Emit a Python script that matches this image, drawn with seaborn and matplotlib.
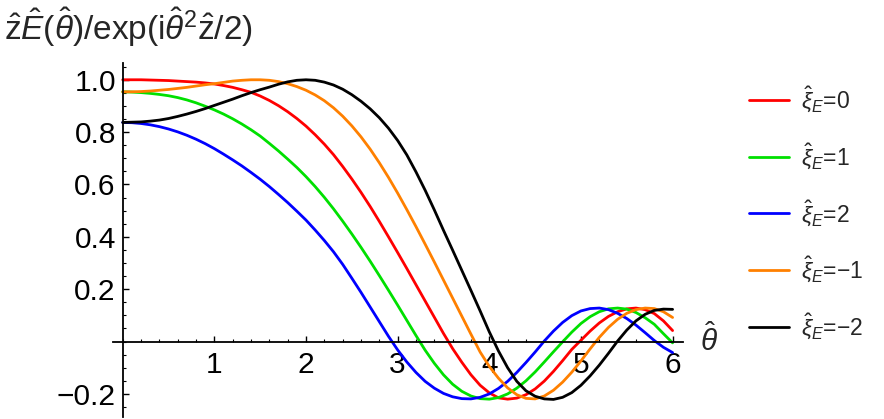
import numpy as np
import pandas as pd
import matplotlib
matplotlib.use("Agg")
import matplotlib.pyplot as plt
import seaborn as sns
from matplotlib.ticker import MultipleLocator, FixedLocator

# values, theta = 0.0, 0.1, ..., 6.0
theta = [round(0.1 * i, 1) for i in range(61)]

xi_0 = [1.000, 1.000, 1.000, 0.999, 0.998, 0.997, 0.995, 0.993, 0.991, 0.988,
        0.984, 0.978, 0.971, 0.962, 0.952, 0.938, 0.921, 0.901, 0.878, 0.852,
        0.823, 0.790, 0.754, 0.714, 0.669, 0.621, 0.570, 0.516, 0.459, 0.400,
        0.340, 0.279, 0.217, 0.155, 0.093, 0.031, -0.027, -0.079, -0.127, -0.167,
        -0.196, -0.215, -0.220, -0.216, -0.203, -0.181, -0.151, -0.114, -0.073, -0.030,
        0.005, 0.040, 0.071, 0.096, 0.114, 0.125, 0.128, 0.122, 0.107, 0.079,
        0.042]
xi_1 = [0.954, 0.953, 0.951, 0.948, 0.944, 0.939, 0.932, 0.923, 0.912, 0.899,
        0.885, 0.869, 0.851, 0.831, 0.809, 0.785, 0.757, 0.728, 0.697, 0.665,
        0.630, 0.592, 0.551, 0.507, 0.460, 0.411, 0.360, 0.307, 0.252, 0.196,
        0.139, 0.081, 0.023, -0.033, -0.083, -0.127, -0.163, -0.190, -0.208, -0.218,
        -0.220, -0.214, -0.200, -0.178, -0.150, -0.116, -0.078, -0.039, -0.001, 0.036,
        0.069, 0.095, 0.114, 0.125, 0.128, 0.124, 0.111, 0.091, 0.066, 0.030,
        -0.005]
xi_2 = [0.837, 0.836, 0.833, 0.828, 0.821, 0.812, 0.801, 0.788, 0.773, 0.756,
        0.737, 0.716, 0.694, 0.671, 0.646, 0.620, 0.592, 0.562, 0.531, 0.498,
        0.464, 0.426, 0.386, 0.343, 0.295, 0.242, 0.188, 0.132, 0.076, 0.020,
        -0.032, -0.078, -0.118, -0.152, -0.178, -0.198, -0.211, -0.218, -0.219, -0.213,
        -0.200, -0.179, -0.152, -0.118, -0.080, -0.040, 0.002, 0.040, 0.073, 0.099,
        0.117, 0.126, 0.128, 0.122, 0.108, 0.088, 0.063, 0.034, 0.004, -0.022,
        -0.042]
xi_m1 = [0.954, 0.954, 0.955, 0.957, 0.960, 0.963, 0.967, 0.971, 0.976, 0.981,
         0.985, 0.990, 0.995, 0.998, 1.000, 1.000, 0.998, 0.993, 0.985, 0.974,
         0.960, 0.942, 0.920, 0.893, 0.861, 0.824, 0.782, 0.735, 0.683, 0.627,
         0.567, 0.504, 0.439, 0.372, 0.304, 0.235, 0.166, 0.097, 0.028, -0.040,
         -0.095, -0.140, -0.177, -0.203, -0.217, -0.219, -0.208, -0.186, -0.155, -0.117,
         -0.074, -0.028, 0.016, 0.054, 0.085, 0.108, 0.122, 0.128, 0.126, 0.114,
         0.092]
xi_m2 = [0.837, 0.838, 0.839, 0.842, 0.846, 0.852, 0.860, 0.869, 0.879, 0.890,
         0.902, 0.914, 0.926, 0.939, 0.951, 0.962, 0.972, 0.983, 0.992, 0.998,
         1.000, 0.998, 0.991, 0.980, 0.964, 0.943, 0.918, 0.889, 0.855, 0.815,
         0.768, 0.713, 0.648, 0.578, 0.503, 0.425, 0.349, 0.272, 0.195, 0.117,
         0.037, -0.036, -0.100, -0.152, -0.188, -0.209, -0.219, -0.221, -0.213, -0.195,
         -0.167, -0.131, -0.090, -0.045, 0.002, 0.044, 0.079, 0.104, 0.119, 0.124,
         0.123]

labels = [r"$\hat{\xi}_E$=0", r"$\hat{\xi}_E$=1", r"$\hat{\xi}_E$=2",
          r"$\hat{\xi}_E$=−1", r"$\hat{\xi}_E$=−2"]
colors = ["#ff0000", "#00e000", "#0000ff", "#ff8000", "#000000"]

rows = []
for lab, vals in zip(labels, [xi_0, xi_1, xi_2, xi_m1, xi_m2]):
    for t, v in zip(theta, vals):
        rows.append({"theta": t, "value": v, "series": lab})
df = pd.DataFrame(rows)

sns.set_theme(style="white")
plt.rcParams["font.family"] = ["Liberation Sans", "DejaVu Sans"]
plt.rcParams["mathtext.fontset"] = "custom"
plt.rcParams["mathtext.rm"] = "Liberation Sans"
plt.rcParams["mathtext.it"] = "Liberation Sans:italic"
plt.rcParams["mathtext.bf"] = "Liberation Sans:bold"

fig = plt.figure(figsize=(8.84, 4.19), dpi=100)
ax = fig.add_axes([0.1275, 0.0055, 0.6455, 0.8441])

sns.lineplot(data=df, x="theta", y="value", hue="series", hue_order=labels,
             palette=colors, linewidth=2.0, ax=ax)

ax.set_xlim(-0.109, 6.117)
ax.set_ylim(-0.287, 1.064)
ax.spines["left"].set_position(("data", 0))
ax.spines["bottom"].set_position(("data", 0))
ax.spines["top"].set_visible(False)
ax.spines["right"].set_visible(False)
for s in ["left", "bottom"]:
    ax.spines[s].set_color("black")
    ax.spines[s].set_linewidth(1.3)

ax.xaxis.set_major_locator(FixedLocator([1, 2, 3, 4, 5, 6]))
ax.xaxis.set_minor_locator(MultipleLocator(0.2))
ax.yaxis.set_major_locator(FixedLocator([-0.2, 0.2, 0.4, 0.6, 0.8, 1.0]))
ax.yaxis.set_minor_locator(MultipleLocator(0.05))
ax.set_xticklabels(["1", "2", "3", "4", "5", "6"])
ax.set_yticklabels(["−0.2", "0.2", "0.4", "0.6", "0.8", "1.0"])
ax.tick_params(axis="both", which="major", direction="in", length=4.5, width=1.0,
               color="black", labelsize=21.5, labelcolor="black")
ax.tick_params(axis="both", which="minor", direction="in", length=2.5, width=0.8,
               color="black")
ax.tick_params(axis="x", which="major", pad=7)
ax.tick_params(axis="y", which="major", pad=5)
ax.tick_params(axis="x", which="both", bottom=True, top=False)
ax.tick_params(axis="y", which="both", left=True, right=False)
ax.set_xlabel("")
ax.set_ylabel("")

fig.text(0.004, 1 - 40 / 419,
         r"$\hat{\mathrm{z}}\hat{E}(\hat{\theta})/\mathrm{exp}(\mathrm{i}\hat{\theta}^2\hat{\mathrm{z}}/2)$",
         fontsize=24, va="baseline", ha="left")
fig.text(0.792, 1 - 340 / 419, r"$\hat{\theta}$", fontsize=21.5, va="center", ha="left")

handles, _ = ax.get_legend_handles_labels()
ax.legend(handles=handles, labels=labels, loc="center left",
          bbox_to_anchor=(749 / 884, 1 - 212.7 / 419), bbox_transform=fig.transFigure,
          frameon=False, fontsize=16.5, handlelength=1.75, handletextpad=0.5,
          labelspacing=1.18, borderpad=0, borderaxespad=0)

plt.savefig("out.png", dpi=100)
